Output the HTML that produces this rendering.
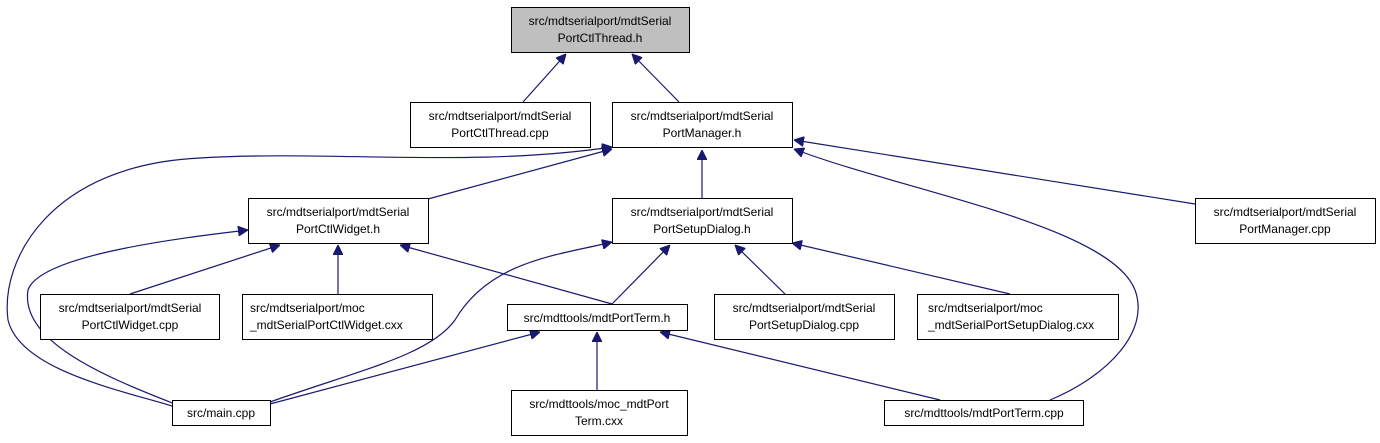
<!DOCTYPE html>
<html><head><meta charset="utf-8"><style>
html,body{margin:0;padding:0;background:#fff;}
svg{display:block;}
text{font-family:"Liberation Sans",sans-serif;font-size:12px;fill:#000;}
</style></head><body>
<svg width="1380" height="443" viewBox="0 0 1380 443" xmlns="http://www.w3.org/2000/svg">
<defs>
<marker id="ar" viewBox="0 0 10 10" refX="10" refY="5" markerWidth="10" markerHeight="10" markerUnits="userSpaceOnUse" orient="auto">
<path d="M0,0 L10,5 L0,10 z" fill="#191970" stroke="#191970"/>
</marker>
</defs>
<g fill="none" stroke="#191970" stroke-width="1.2" marker-end="url(#ar)">
<path d="M523,102 L566,54"/>
<path d="M679,102 L632,54"/>
<path d="M428,199 L612,149"/>
<path d="M702,198 L702,150"/>
<path d="M1195,204 L794,140"/>
<path d="M1050,400 C1110,375 1150,330 1135,290 C1110,225 900,190 794,149"/>
<path d="M172,406 C120,390 20,370 8,320 C0,260 50,165 200,158 C330,150 470,168 612,147"/>
<path d="M130,294 L280,245"/>
<path d="M338,294 L338,245"/>
<path d="M612,304 L400,245"/>
<path d="M175,404 C100,375 20,340 28,290 C40,255 180,238 248,230"/>
<path d="M612,304 L670,245"/>
<path d="M270,402 C360,370 430,355 455,320 C490,260 560,255 612,242"/>
<path d="M785,294 L735,245"/>
<path d="M1010,294 L792,243"/>
<path d="M270,404 L540,332"/>
<path d="M597,390 L597,332"/>
<path d="M940,400 L660,332"/>
</g>
<g stroke="#000" stroke-width="1" fill="#fff">
<rect x="511.5" y="7.5" width="178" height="45" fill="#bfbfbf"/>
<rect x="410.5" y="102.5" width="180" height="45"/>
<rect x="612.5" y="102.5" width="180" height="45"/>
<rect x="248.5" y="198.5" width="180" height="45"/>
<rect x="612.5" y="198.5" width="180" height="45"/>
<rect x="1195.5" y="198.5" width="180" height="45"/>
<rect x="40.5" y="294.5" width="179" height="45"/>
<rect x="242.5" y="294.5" width="190" height="45"/>
<rect x="507.5" y="304.5" width="180" height="26"/>
<rect x="714.5" y="294.5" width="180" height="45"/>
<rect x="917.5" y="294.5" width="201" height="45"/>
<rect x="172.5" y="400.5" width="98" height="25"/>
<rect x="511.5" y="390.5" width="176" height="45"/>
<rect x="884.5" y="400.5" width="199" height="25"/>
</g>
<g text-anchor="middle">
<text x="600" y="25">src/mdtserialport/mdtSerial</text><text x="600" y="42">PortCtlThread.h</text>
<text x="500" y="120">src/mdtserialport/mdtSerial</text><text x="500" y="137">PortCtlThread.cpp</text>
<text x="702" y="120">src/mdtserialport/mdtSerial</text><text x="702" y="137">PortManager.h</text>
<text x="338" y="216">src/mdtserialport/mdtSerial</text><text x="338" y="233">PortCtlWidget.h</text>
<text x="702" y="216">src/mdtserialport/mdtSerial</text><text x="702" y="233">PortSetupDialog.h</text>
<text x="1285" y="216">src/mdtserialport/mdtSerial</text><text x="1285" y="233">PortManager.cpp</text>
<text x="130" y="312">src/mdtserialport/mdtSerial</text><text x="130" y="329">PortCtlWidget.cpp</text>
<text x="804" y="312">src/mdtserialport/mdtSerial</text><text x="804" y="329">PortSetupDialog.cpp</text>
<text x="597" y="322">src/mdttools/mdtPortTerm.h</text>
<text x="221" y="417">src/main.cpp</text>
<text x="599" y="408">src/mdttools/moc_mdtPort</text><text x="599" y="425">Term.cxx</text>
<text x="984" y="417">src/mdttools/mdtPortTerm.cpp</text>
</g>
<g>
<text x="250" y="312">src/mdtserialport/moc</text><text x="250" y="329">_mdtSerialPortCtlWidget.cxx</text>
<text x="928" y="312">src/mdtserialport/moc</text><text x="928" y="329">_mdtSerialPortSetupDialog.cxx</text>
</g>
</svg>
</body></html>
